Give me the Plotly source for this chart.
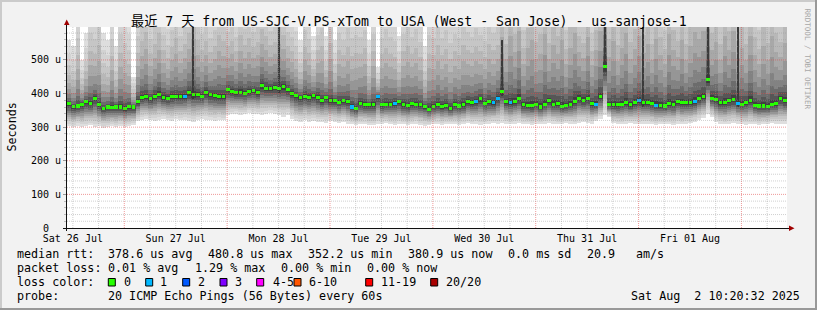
import plotly.graph_objects as go
from datetime import datetime, timedelta

# ---------------- data ----------------
START = datetime(2025, 7, 26, 10, 38)   # left edge of the 7-day window
N_HOURS = 168

# median RTT per hour (microseconds)
median_us = [
    369, 361, 363, 368, 375, 371, 385, 366, 356, 360, 359, 360, 360, 355, 361, 360,
    376, 388, 390, 384, 392, 398, 388, 386, 390, 390, 392, 392, 402, 396, 396, 392, 404, 396,
    394, 391, 391, 411, 406, 403, 404, 401, 406, 408, 403, 423, 416, 415, 419, 415, 420, 411,
    401, 393, 388, 392, 388, 393, 388, 378, 388, 378, 378, 374, 378, 375, 360, 355,
    371, 366, 366, 366, 391, 366, 368, 368, 370, 375, 366, 364, 369, 368, 366, 361, 354,
    361, 366, 361, 364, 356, 366, 363, 366, 375, 373, 375, 384, 371, 375, 373, 386,
    405, 376, 372, 376, 384, 366, 364, 364, 368, 360, 368, 378, 368, 370, 362, 364, 368,
    375, 386, 380, 384, 370, 368, 390, 480, 366, 366, 366, 368, 373, 366, 372, 378, 373,
    373, 371, 365, 364, 363, 370, 368, 376, 372, 372, 373, 376, 385, 390, 442, 386, 381,
    373, 372, 378, 381, 371, 368, 373, 380, 365, 363, 363, 362, 368, 370, 385, 378,
]

# fastest ping per hour (microseconds)
lo_us = [
    302, 300, 304, 300, 302, 306, 300, 302, 298, 300, 302, 300, 304, 300, 302, 305,
    318, 322, 325, 320, 318, 322, 325, 320, 318, 324, 320, 322, 318, 315, 320, 325, 322, 320,
    318, 322, 320,
    335, 338, 340, 336, 338, 342, 340, 338, 336, 340, 342, 338, 335, 330, 336, 325,
    318, 315, 320, 316, 318, 314, 316, 312, 318, 315, 312, 316, 310, 308, 306,
    308, 310, 306, 305, 308, 310, 312, 308, 306, 310, 308, 305, 308, 310, 306, 304, 305,
    308, 310, 306, 308, 310, 308, 306, 310, 312, 308, 310, 306, 308, 310, 312, 310,
    312, 310, 308, 310, 312, 310, 308, 306, 310, 308, 310, 312, 310, 308, 310, 312, 310,
    308, 312, 315, 312, 310, 318, 325, 335, 330, 312, 310, 308, 310, 312, 310, 308, 310,
    310, 308, 306, 308, 310, 308, 306, 310, 308, 310, 312, 315, 320, 328, 338, 330, 315,
    310, 308, 310, 312, 310, 308, 306, 308, 310, 306, 308, 310, 312, 310, 308, 310,
]

# slowest ping per hour (microseconds, often above the visible range)
hi_us = [
    560, 540, 700, 500, 580, 720, 680, 760, 580, 560, 700, 540, 720, 680, 640, 450,
    700, 760, 820, 680, 740, 800, 700, 650, 720, 780, 690, 740, 800, 900, 760, 700, 740, 680,
    720, 800, 760, 700, 740, 680, 780, 720, 760, 700, 740, 800, 760, 700, 720, 820, 760, 700,
    680, 640, 560, 720, 680, 570, 700, 740, 570, 760, 560, 720, 680, 740, 700, 720,
    700, 740, 560, 720, 480, 700, 740, 700, 680, 570, 720, 760, 700, 740, 680, 540, 720,
    700, 760, 700, 740, 680, 720, 700, 760, 720, 700, 740, 700, 680, 760, 720, 740,
    900, 760, 980, 820, 1000, 740, 880, 960, 780, 840, 1000, 760, 900, 820, 960, 740, 880,
    1000, 800, 760, 940, 720, 860, 980, 1100, 800, 940, 760, 880, 1000, 780, 860, 960, 820,
    900, 760, 960, 820, 740, 1000, 860, 780, 940, 760, 880, 1000, 920, 980, 1100, 820, 900,
    760, 980, 840, 1000, 780, 880, 760, 960, 820, 740, 900, 780, 980, 840, 760, 900,
]

# hours with packet loss and number of lost pings
loss_hours = [27, 66, 72, 76, 95, 99, 100, 103, 123, 133, 137, 146, 156]
loss_pings = [1, 1, 1, 1, 1, 1, 1, 1, 1, 1, 1, 1, 1]

# short dark outlier streaks
spike_hours = [29, 49, 101, 125, 134, 149, 156]
spike_top_us = [650, 640, 560, 650, 600, 650, 640]

day_ticks = [datetime(2025, 7, 26, 12) + timedelta(days=i) for i in range(7)]
y_ticks = [0, 100, 200, 300, 400, 500]
y_ticktext = ["0\u00a0\u00a0", "100 u", "200 u", "300 u", "400 u", "500 u"]

loss_legend = [("0", "#26ff00"), ("1", "#00b8ff"), ("2", "#0059ff"), ("3", "#7e00ff"),
               ("4-5", "#ff00ff"), ("6-10", "#ff5500"), ("11-19", "#ff0000"), ("20/20", "#a80000")]
loss_bins = [0, 1, 2, 3, 5, 10, 19, 20]

title_text = "最近 7 天 from US-SJC-V.PS-xTom to USA (West - San Jose) - us-sanjose-1"
rtt_stats = ["378.6 us avg", "480.8 us max", "352.2 us min", "380.9 us now", "0.0 ms sd", "20.9", "am/s"]
loss_stats = ["0.01 % avg", "1.29 % max", "0.00 % min", "0.00 % now"]
probe_text = "20 ICMP Echo Pings (56 Bytes) every 60s"
stamp_text = "Sat Aug  2 10:20:32 2025"

# ---------------- style ----------------
MONO = "DejaVu Sans Mono, Noto Sans CJK SC, monospace"
HOUR_MS = 3600 * 1000
END = START + timedelta(hours=N_HOURS)
Y_TOP = 598
UP = [1.0, 0.78, 0.6, 0.45, 0.33, 0.23, 0.15, 0.09, 0.05, 0.022]
DN = [1.0, 0.88, 0.77, 0.67, 0.58, 0.49, 0.40, 0.30, 0.20, 0.10]
SHADES = ['#DEDEDE', '#D2D2D2', '#C6C6C6', '#B8B8B8', '#A8A8A8',
          '#969696', '#828282', '#6C6C6C', '#565656', '#404040']

centers = [START + timedelta(minutes=30 + 60 * i) for i in range(N_HOURS)]

fig = go.Figure()

# smoke
for k in range(len(SHADES)):
    lower = [m - (m - l) * DN[k] for m, l in zip(median_us, lo_us)]
    upper = [m + (h - m) * UP[k] for m, h in zip(median_us, hi_us)]
    fig.add_bar(x=centers, base=lower, y=[u - l for u, l in zip(upper, lower)],
                width=HOUR_MS, marker=dict(color=SHADES[k], line=dict(width=0)),
                hoverinfo='skip')

# spikes
sp_x = [centers[h] for h in spike_hours]
sp_base = [median_us[h] - 12 for h in spike_hours]
fig.add_bar(x=sp_x, base=sp_base, y=[t - b for t, b in zip(spike_top_us, sp_base)],
            width=HOUR_MS * 0.22, marker=dict(color='#3A3A3A', line=dict(width=0)),
            hoverinfo='skip')

# median coloured by loss
loss_of_hour = [0] * N_HOURS
for h, p in zip(loss_hours, loss_pings):
    loss_of_hour[h] = p


def loss_color(p):
    for b, (_, c) in zip(loss_bins, loss_legend):
        if p <= b:
            return c
    return loss_legend[-1][1]


fig.add_bar(x=centers, base=[m - 4.5 for m in median_us], y=[9] * N_HOURS,
            width=HOUR_MS * 0.85,
            marker=dict(color=[loss_color(p) for p in loss_of_hour], line=dict(width=0)),
            hoverinfo='skip')

# ---------------- grid (drawn above the smoke) ----------------
shapes = []
MINOR = 'rgba(150,150,150,0.45)'
MAJOR = 'rgba(225,70,70,0.55)'
g = datetime(2025, 7, 26, 12)
while g < END:
    col = MAJOR if g.hour == 0 else MINOR
    shapes.append(dict(type='line', xref='x', yref='paper', x0=g, x1=g, y0=0, y1=1,
                       line=dict(color=col, width=1, dash='1px,1px'), layer='above'))
    g += timedelta(hours=6)
for v in range(20, Y_TOP, 20):
    col = MAJOR if v % 100 == 0 else MINOR
    shapes.append(dict(type='line', xref='paper', yref='y', x0=0, x1=1, y0=v, y1=v,
                       line=dict(color=col, width=1, dash='1px,1px'), layer='above'))


def PX(px):
    return (px - 67) / 720.0


def PY(py):
    return (228 - py) / 201.0


AX = '#101010'
ARROW = '#A00000'
shapes.append(dict(type='line', xref='paper', yref='paper', x0=PX(63), x1=PX(790),
                   y0=PY(228.5), y1=PY(228.5), line=dict(color=AX, width=1), layer='above'))
shapes.append(dict(type='line', xref='paper', yref='paper', x0=PX(66.5), x1=PX(66.5),
                   y0=PY(231), y1=PY(24), line=dict(color=AX, width=1), layer='above'))
shapes.append(dict(type='path', xref='paper', yref='paper',
                   path=f"M {PX(64)},{PY(25)} L {PX(69.5)},{PY(25)} L {PX(66.7)},{PY(19.5)} Z",
                   fillcolor=ARROW, line=dict(width=0), layer='above'))
shapes.append(dict(type='path', xref='paper', yref='paper',
                   path=f"M {PX(789)},{PY(225.5)} L {PX(789)},{PY(231)} L {PX(794.5)},{PY(228.2)} Z",
                   fillcolor=ARROW, line=dict(width=0), layer='above'))

# frame shading of the whole image
shapes.append(dict(type='rect', xref='paper', yref='paper', x0=PX(0), x1=PX(817), y0=PY(0), y1=PY(2),
                   fillcolor='#CBCBCB', line=dict(width=0)))
shapes.append(dict(type='rect', xref='paper', yref='paper', x0=PX(0), x1=PX(2), y0=PY(0), y1=PY(310),
                   fillcolor='#CBCBCB', line=dict(width=0)))
shapes.append(dict(type='rect', xref='paper', yref='paper', x0=PX(815), x1=PX(817), y0=PY(0), y1=PY(310),
                   fillcolor='#999999', line=dict(width=0)))
shapes.append(dict(type='rect', xref='paper', yref='paper', x0=PX(0), x1=PX(817), y0=PY(308), y1=PY(310),
                   fillcolor='#999999', line=dict(width=0)))

# loss colour legend squares
sq_x = [108.3, 145.7, 182.7, 220, 256.7, 294, 365.7, 430.7]
for (lab, col), sx in zip(loss_legend, sq_x):
    shapes.append(dict(type='rect', xref='paper', yref='paper', x0=PX(sx), x1=PX(sx + 7),
                       y0=PY(278.5), y1=PY(286), fillcolor=col,
                       line=dict(color='#000000', width=1)))

fig.update_layout(shapes=shapes)

# ---------------- text ----------------
anns = []


def text(px, py, s, size=11.7, anchor='left', color='#000000', angle=0):
    anns.append(dict(x=PX(px), y=PY(py), xref='paper', yref='paper',
                     text=s.replace(' ', '\u00a0'), showarrow=False, xanchor=anchor,
                     yanchor='middle', borderpad=0, textangle=angle,
                     font=dict(family=MONO, size=size, color=color)))


text(408.5, 21.5, title_text, size=13.2, anchor='center')
text(11, 127.5, "Seconds", size=11.7, anchor='center', angle=-90)
text(807.5, 59, "RRDTOOL / TOBI OETIKER", size=7.6, anchor='center', color='#A8A8A8', angle=90)

text(16, 254, "median rtt:")
for s, px in zip(rtt_stats, [107.3, 207.3, 307.3, 407.3, 507.3, 585.7, 635]):
    text(px, 254, s)
text(16, 268.3, "packet loss:")
for s, px in zip(loss_stats, [107.3, 194, 279.6, 365.7]):
    text(px, 268.3, s)
text(16, 282.3, "loss color:")
for (lab, col), px in zip(loss_legend, [122.7, 159, 197.3, 233.6, 271.5, 308.3, 380, 445]):
    text(px, 282.3, lab)
text(16, 296, "probe:")
text(107.3, 296, probe_text)
text(800.5, 296, stamp_text, anchor='right')

fig.update_layout(annotations=anns)

fig.update_layout(
    width=817, height=310,
    margin=dict(l=67, r=30, t=27, b=82, pad=0),
    paper_bgcolor='#F2F2F2', plot_bgcolor='#FFFFFF',
    barmode='overlay', bargap=0, showlegend=False,
    font=dict(family=MONO, size=10, color='#000000'),
)
fig.update_xaxes(type='date', range=[START, END], tickvals=day_ticks, tickformat='%a %d %b',
                 showgrid=False, zeroline=False, showline=False, ticks='',
                 ticklabelstandoff=3,
                 tickfont=dict(family=MONO, size=10, color='#000000'), fixedrange=True)
fig.update_yaxes(range=[0, Y_TOP], tickvals=y_ticks, ticktext=y_ticktext,
                 showgrid=False, zeroline=False, showline=False,
                 ticks='outside', ticklen=3, tickcolor='#999999',
                 minor=dict(ticks='outside', ticklen=2, dtick=20, tickcolor='#BBBBBB'),
                 tickfont=dict(family=MONO, size=10, color='#000000'), fixedrange=True)

fig.write_html("out.html")
